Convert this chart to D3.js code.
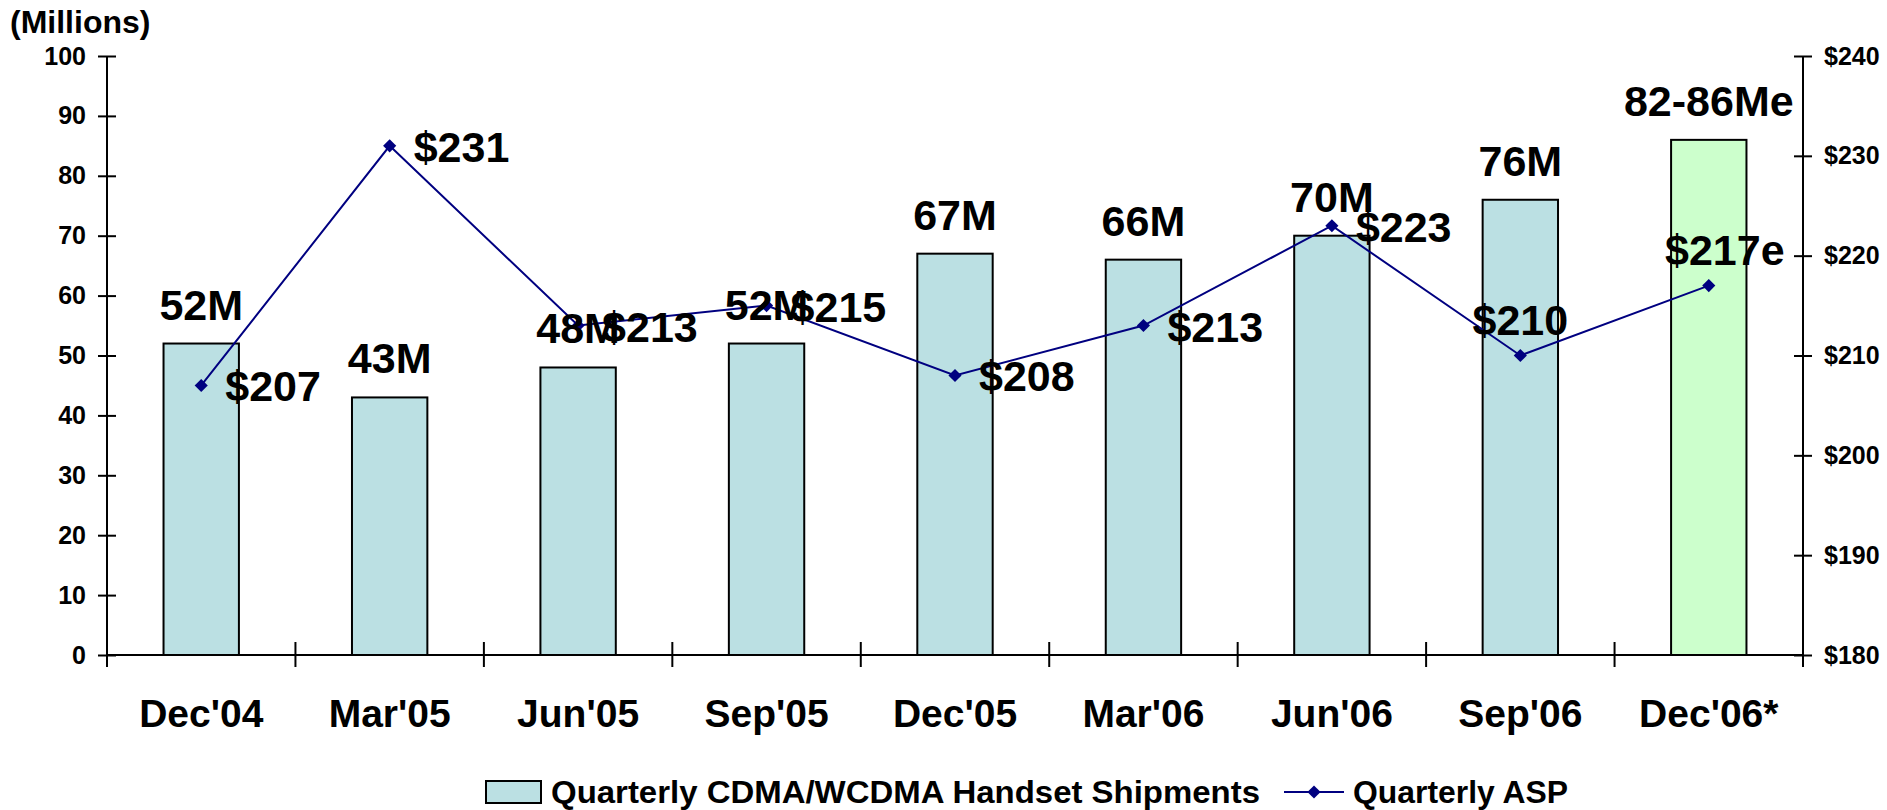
<!DOCTYPE html>
<html>
<head>
<meta charset="utf-8">
<script src="https://cdn.jsdelivr.net/npm/d3@7"></script>
<style>
  body { margin: 0; background: #fff; }
  svg { display: block; font-family: "Liberation Sans", Arial, sans-serif; font-weight: bold; }
</style>
</head>
<body>
<div id="chart"></div>
<script>
const quarters = ["Dec'04", "Mar'05", "Jun'05", "Sep'05", "Dec'05", "Mar'06", "Jun'06", "Sep'06", "Dec'06*"]
const shipments = [52, 43, 48, 52, 67, 66, 70, 76, 86]
const shipmentLabels = ["52M", "43M", "48M", "52M", "67M", "66M", "70M", "76M", "82-86Me"]
const asp = [207, 231, 213, 215, 208, 213, 223, 210, 217]
const aspLabels = ["$207", "$231", "$213", "$215", "$208", "$213", "$223", "$210", "$217e"]
const aspLabelAbove = [false, false, false, false, false, false, false, true, true]
const leftTicks = [0, 10, 20, 30, 40, 50, 60, 70, 80, 90, 100]
const rightTicks = [180, 190, 200, 210, 220, 230, 240]

const width = 1887, height = 810
const plotLeft = 107, plotRight = 1803, plotTop = 56, plotBottom = 655
const FONT = "Liberation Sans, Arial, sans-serif"

const svg = d3.select("#chart").append("svg")
  .attr("width", width)
  .attr("height", height)

const x = d3.scaleBand().domain(quarters).range([plotLeft, plotRight]).padding(0)
const y = d3.scaleLinear().domain([0, 100]).range([plotBottom, plotTop])
const y2 = d3.scaleLinear().domain([180, 240]).range([plotBottom, plotTop])

// bars
svg.append("g")
  .selectAll("rect")
  .data(quarters)
  .join("rect")
  .attr("x", d => x(d) + x.bandwidth() * 0.3)
  .attr("width", x.bandwidth() * 0.4)
  .attr("y", (d, i) => y(shipments[i]))
  .attr("height", (d, i) => y(0) - y(shipments[i]))
  .attr("fill", (d, i) => i === quarters.length - 1 ? "#ccffcc" : "#bbe0e3")
  .attr("stroke", "#000")
  .attr("stroke-width", 2)

// left axis
const axL = svg.append("g")
  .attr("transform", `translate(${plotLeft},0)`)
  .call(d3.axisLeft(y).tickValues(leftTicks).tickSize(8).tickPadding(13))
axL.select(".domain").attr("stroke-width", 2).attr("d", `M0,${plotTop}V${plotBottom + 12}`)
axL.selectAll(".tick line").attr("x1", 9).attr("x2", -9).attr("stroke-width", 2)
axL.selectAll("text").attr("font-size", 25).attr("font-weight", "bold").attr("font-family", FONT).attr("fill", "#000")

// right axis
const axR = svg.append("g")
  .attr("transform", `translate(${plotRight},0)`)
  .call(d3.axisRight(y2).tickValues(rightTicks).tickFormat(d => "$" + d).tickSize(8).tickPadding(13))
axR.select(".domain").attr("stroke-width", 2).attr("d", `M0,${plotTop}V${plotBottom + 12}`)
axR.selectAll(".tick line").attr("x1", -9).attr("x2", 9).attr("stroke-width", 2)
axR.selectAll("text").attr("font-size", 25).attr("font-weight", "bold").attr("font-family", FONT).attr("fill", "#000")

// bottom axis
const axB = svg.append("g")
  .attr("transform", `translate(0,${plotBottom})`)
  .call(d3.axisBottom(x).tickSize(0).tickPadding(0))
axB.select(".domain").attr("stroke-width", 2).attr("d", `M${plotLeft},0H${plotRight}`)
axB.selectAll(".tick text")
  .attr("y", 72).attr("dy", null)
  .attr("font-size", 39).attr("font-weight", "bold")
  .attr("font-family", FONT).attr("fill", "#000")
axB.selectAll(".boundary")
  .data(quarters.slice(1))
  .join("line")
  .attr("class", "boundary")
  .attr("x1", d => x(d)).attr("x2", d => x(d))
  .attr("y1", -13).attr("y2", 12)
  .attr("stroke", "#000").attr("stroke-width", 2)
axB.append("line")
  .attr("x1", plotLeft).attr("x2", plotLeft).attr("y1", -13).attr("y2", 12)
  .attr("stroke", "#000").attr("stroke-width", 2)

// ASP line
const cx = d => x(d) + x.bandwidth() / 2
const line = d3.line().x(d => cx(d)).y((d, i) => y2(asp[i]))
svg.append("path")
  .datum(quarters)
  .attr("d", line)
  .attr("fill", "none")
  .attr("stroke", "#000080")
  .attr("stroke-width", 2)

svg.append("g")
  .selectAll("path")
  .data(quarters)
  .join("path")
  .attr("d", d3.symbol(d3.symbolDiamond2, 110))
  .attr("transform", (d, i) => `translate(${cx(d)},${y2(asp[i])})`)
  .attr("fill", "#000080")

// bar labels
svg.append("g")
  .selectAll("text")
  .data(quarters)
  .join("text")
  .attr("x", d => cx(d))
  .attr("y", (d, i) => y(shipments[i]) - 24)
  .attr("text-anchor", "middle")
  .attr("font-size", 43)
  .text((d, i) => shipmentLabels[i])

// ASP labels
svg.append("g")
  .selectAll("text")
  .data(quarters)
  .join("text")
  .attr("x", (d, i) => aspLabelAbove[i] ? cx(d) + (i === quarters.length - 1 ? 16 : 0) : cx(d) + 24)
  .attr("y", (d, i) => aspLabelAbove[i] ? y2(asp[i]) - 21 : y2(asp[i]) + 16)
  .attr("text-anchor", (d, i) => aspLabelAbove[i] ? "middle" : "start")
  .attr("font-size", 43)
  .text((d, i) => aspLabels[i])

// unit label
svg.append("text")
  .attr("x", 10).attr("y", 33)
  .attr("font-size", 32)
  .text("(Millions)")

// legend
const lg = svg.append("g")
lg.append("rect")
  .attr("x", 486).attr("y", 781).attr("width", 55).attr("height", 22)
  .attr("fill", "#bbe0e3").attr("stroke", "#000").attr("stroke-width", 2)
lg.append("text")
  .attr("x", 551).attr("y", 803)
  .attr("font-size", 31)
  .attr("textLength", 709)
  .attr("lengthAdjust", "spacingAndGlyphs")
  .text("Quarterly CDMA/WCDMA Handset Shipments")
lg.append("line")
  .attr("x1", 1284).attr("x2", 1344).attr("y1", 792).attr("y2", 792)
  .attr("stroke", "#000080").attr("stroke-width", 2)
lg.append("path")
  .attr("d", d3.symbol(d3.symbolDiamond2, 110))
  .attr("transform", "translate(1314,792)")
  .attr("fill", "#000080")
lg.append("text")
  .attr("x", 1353).attr("y", 803)
  .attr("font-size", 31)
  .attr("textLength", 215)
  .attr("lengthAdjust", "spacingAndGlyphs")
  .text("Quarterly ASP")
</script>
</body>
</html>
